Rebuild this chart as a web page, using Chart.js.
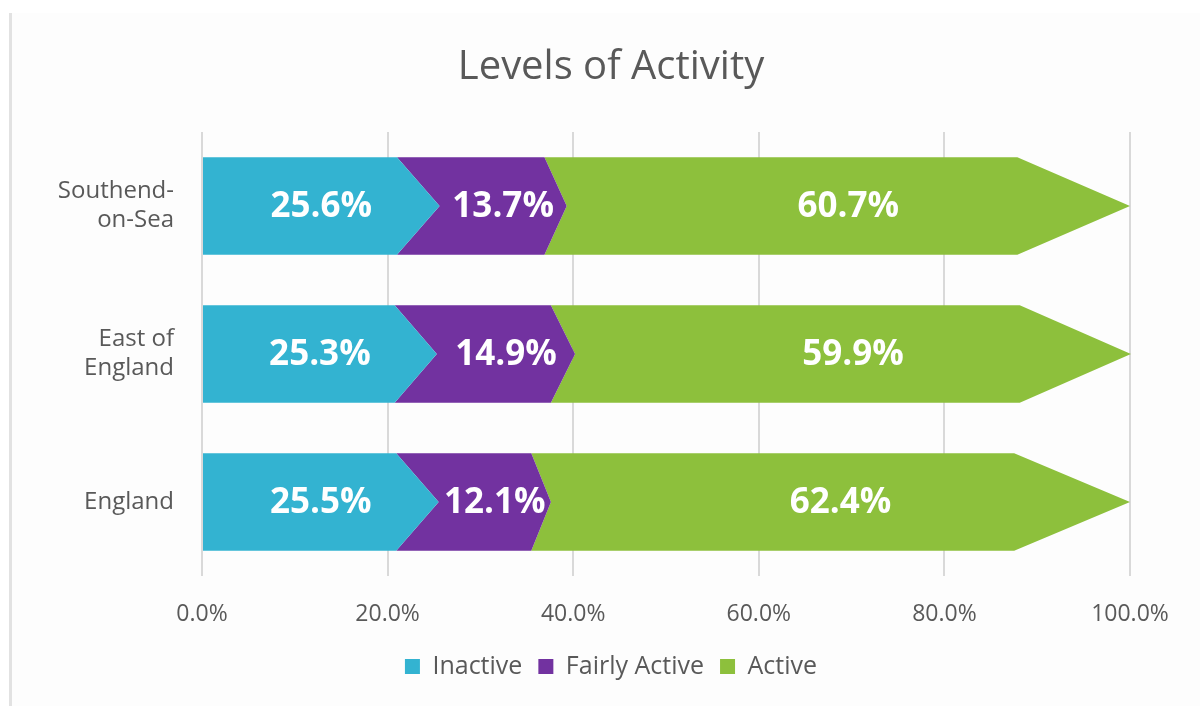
<html>
  <head>
    <script src="https://cdn.jsdelivr.net/npm/chart.js@4.4.1/dist/chart.umd.min.js"></script>
  </head>
  <body>
    <div id="frame"></div>
    <div id="wrapper">
      <canvas id="chart"></canvas>
    </div>
    <script>
      // values
      const areas = [["Southend-", "on-Sea"], ["East of", "England"], "England"];
      const inactive = [25.6, 25.3, 25.5];
      const fairlyActive = [13.7, 14.9, 12.1];
      const active = [60.7, 59.9, 62.4];
      const xTicks = [0, 20, 40, 60, 80, 100];

      const grey = "#595959";
      const font = "'Open Sans', 'Liberation Sans', sans-serif";

      // draw every bar segment as an arrow, tip at the value end
      const arrowBars = {
        id: "arrowBars",
        beforeDatasetDraw(chart, args) {
          const meta = args.meta;
          const ds = chart.data.datasets[args.index];
          const prev = args.index > 0 ? chart.getDatasetMeta(args.index - 1) : null;
          const prevDs = args.index > 0 ? chart.data.datasets[args.index - 1] : null;
          const ctx = chart.ctx;
          ctx.save();
          ctx.fillStyle = ds.backgroundColor;
          meta.data.forEach(function(bar, i) {
            const tip = bar.x;
            const base = bar.base;
            const half = bar.height / 2;
            const top = bar.y - half;
            const bottom = bar.y + half;
            const depth = (tip - base) * ds.pointFrac;
            let back = base;
            if (prev) {
              const p = prev.data[i];
              back = base - (p.x - p.base) * prevDs.pointFrac;
            }
            ctx.beginPath();
            ctx.moveTo(back, top);
            ctx.lineTo(tip - depth, top);
            ctx.lineTo(tip, bar.y);
            ctx.lineTo(tip - depth, bottom);
            ctx.lineTo(back, bottom);
            if (prev) ctx.lineTo(base, bar.y);
            ctx.closePath();
            ctx.fill();
          });
          ctx.restore();
          return false;
        },
        afterDatasetsDraw(chart) {
          const ctx = chart.ctx;
          ctx.save();
          ctx.fillStyle = "#ffffff";
          ctx.font = "bold 35px " + font;
          ctx.textAlign = "center";
          ctx.textBaseline = "middle";
          chart.data.datasets.forEach(function(ds, d) {
            chart.getDatasetMeta(d).data.forEach(function(bar, i) {
              ctx.fillText(ds.data[i].toFixed(1) + "%", (bar.x + bar.base) / 2, bar.y + 1);
            });
          });
          ctx.restore();
        }
      };

      new Chart("chart", {
        type: "bar",
        data: {
          labels: areas,
          datasets: [
            { label: "Inactive", data: inactive, backgroundColor: "#33b3d1", pointFrac: 0.18 },
            { label: "Fairly Active", data: fairlyActive, backgroundColor: "#7232a0", pointFrac: 0.175 },
            { label: "Active", data: active, backgroundColor: "#8dc03c", pointFrac: 0.2 }
          ]
        },
        options: {
          indexAxis: "y",
          responsive: true,
          maintainAspectRatio: false,
          animation: false,
          layout: { padding: { left: 22, right: 0, top: 44, bottom: 17 } },
          datasets: { bar: { barPercentage: 0.66, categoryPercentage: 1 } },
          plugins: {
            title: {
              display: true,
              text: "Levels of Activity",
              color: grey,
              font: { family: font, size: 40, weight: "normal" },
              padding: { top: 0, bottom: 40 }
            },
            legend: {
              position: "bottom",
              labels: {
                color: grey,
                font: { family: font, size: 25 },
                boxWidth: 15,
                boxHeight: 15,
                padding: 16
              }
            },
            tooltip: { enabled: false }
          },
          scales: {
            x: {
              stacked: true,
              min: 0,
              max: 100,
              afterBuildTicks(scale) {
                scale.ticks = xTicks.map(function(v) { return { value: v }; });
              },
              afterFit(scale) { scale.height = 62; },
              ticks: {
                color: grey,
                font: { family: font, size: 23 },
                padding: 25,
                callback: function(v) { return v.toFixed(1) + "%"; }
              },
              grid: { color: "#d9d9d9", lineWidth: 2, drawTicks: false },
              border: { display: false }
            },
            y: {
              stacked: true,
              afterFit(scale) { scale.width = 180; },
              ticks: {
                color: grey,
                font: { family: font, size: 24 },
                padding: 20
              },
              grid: { display: false },
              border: { display: false }
            },
            // empty right-hand axis, only keeps the space right of 100%
            yRight: {
              type: "category",
              axis: "y",
              position: "right",
              afterFit(scale) { scale.width = 70; },
              ticks: { display: false },
              grid: { display: false },
              border: { display: false }
            }
          }
        },
        plugins: [arrowBars]
      });
    </script>
  </body>
  <style>
    body { margin: 0; background: #ffffff; }
    #wrapper { position: relative; width: 1200px; height: 706px; }
    #frame {
      position: absolute;
      left: 9px;
      top: 13px;
      width: 1191px;
      height: 693px;
      border-left: 3px solid #e2e2e2;
      background: #fdfdfd;
    }
  </style>
</html>
